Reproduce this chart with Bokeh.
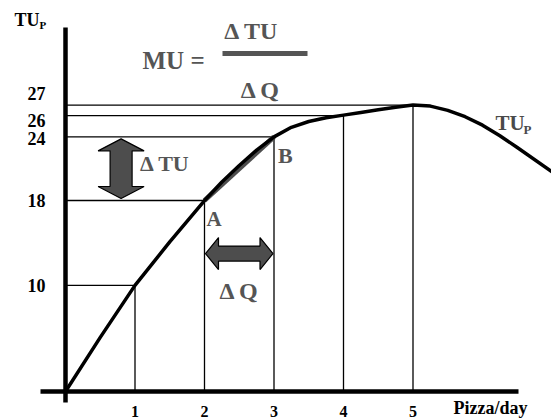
from bokeh.plotting import figure
from bokeh.models import Range1d, LinearAxis, FixedTicker
from bokeh.core.properties import value
from bokeh.embed import file_html
from bokeh.resources import INLINE

# ---------------- data ----------------
Q = [1, 2, 3, 4, 5]                      # pizzas per day
TU = [10, 18, 24, 26, 27]                # total utility at each Q
X_TICK_LABELS = ["1", "2", "3", "4", "5"]
Y_TICK_LABELS = ["10", "18", "24", "26", "27"]
# total-utility curve
Q_CURVE = [0, 0.5, 1, 1.5, 2, 2.25, 2.5, 2.75, 3, 3.25, 3.5, 3.75, 4, 4.25, 4.5, 4.75,
           5, 5.25, 5.5, 5.75, 6, 6.25, 6.5, 7.0, 7.3]
TU_CURVE = [0, 5.1, 10, 14.1, 18, 19.75, 21.3, 22.75, 24, 24.9, 25.45, 25.8, 26.05, 26.3, 26.55, 26.8,
            27, 26.9, 26.5, 25.9, 25.1, 24.1, 23.0, 20.7, 19.0]
IA, IB = 1, 2                            # points A (Q=2) and B (Q=3)

# ---------------- layout / style ----------------
W, H = 551, 420
XS, YS = 69.5, 10.61          # pixels per unit
X0, Y0 = 65, 391              # origin in figure pixels
FONT = value("Liberation Serif")
GRAY = "#555555"


def qx(px):
    return (px - X0) / XS


def ty(py):
    return (Y0 - py) / YS


p = figure(width=W, height=H, output_backend="svg", toolbar_location=None,
           x_range=Range1d(-X0 / XS, (W - X0) / XS),
           y_range=Range1d(-(H - Y0) / YS, Y0 / YS),
           x_axis_type=None, y_axis_type=None, min_border=0)
p.outline_line_color = None
p.background_fill_color = "white"
p.border_fill_color = "white"

# axes (library axes placed at the origin)
xaxis = LinearAxis(fixed_location=0, bounds=(qx(40), qx(518)),
                   ticker=FixedTicker(ticks=Q),
                   major_label_overrides={q: s for q, s in zip(Q, X_TICK_LABELS)})
yaxis = LinearAxis(fixed_location=0, bounds=(ty(402), ty(27)),
                   ticker=FixedTicker(ticks=[]))
for ax in (xaxis, yaxis):
    ax.axis_line_width = 4.5
    ax.axis_line_color = "black"
    ax.major_tick_line_color = None
    ax.minor_tick_line_color = None
    ax.major_label_text_font = "Liberation Serif"
    ax.major_label_text_font_style = "bold"
    ax.major_label_text_font_size = "16px"
    ax.major_label_text_color = "black"
xaxis.major_label_standoff = 8
p.add_layout(xaxis, "below")
p.add_layout(yaxis, "left")

# guide lines
p.segment(x0=Q, y0=[0] * len(Q), x1=Q, y1=TU, line_color="black", line_width=1.3)
p.segment(x0=[0] * len(Q), y0=TU, x1=Q, y1=TU, line_color="black", line_width=1.3)

# chord A-B
p.line(x=[Q[IA], Q[IB]], y=[TU[IA], TU[IB]], line_color="#4d4d4d", line_width=5)

# curve
p.line(x=Q_CURVE, y=TU_CURVE, line_color="black", line_width=3.5, line_join="round")


def double_arrow(x0, y0, x1, y1, shaft, head, head_len, inset=0.0):
    ax_, ay_ = x0 * XS, y0 * YS
    bx_, by_ = x1 * XS, y1 * YS
    dx, dy = bx_ - ax_, by_ - ay_
    L = (dx * dx + dy * dy) ** 0.5
    ux, uy = dx / L, dy / L
    nx, ny = -uy, ux
    ax_, ay_ = ax_ + ux * inset, ay_ + uy * inset
    bx_, by_ = bx_ - ux * inset, by_ - uy * inset

    def P(cx, cy, along, across):
        return (cx + ux * along + nx * across, cy + uy * along + ny * across)

    pts = [(ax_, ay_), P(ax_, ay_, head_len, head), P(ax_, ay_, head_len, shaft),
           P(bx_, by_, -head_len, shaft), P(bx_, by_, -head_len, head), (bx_, by_),
           P(bx_, by_, -head_len, -head), P(bx_, by_, -head_len, -shaft),
           P(ax_, ay_, head_len, -shaft), P(ax_, ay_, head_len, -head)]
    return [t[0] / XS for t in pts], [t[1] / YS for t in pts]


ARROW_X = 0.8
ARROW_Y = 13
vx, vy = double_arrow(ARROW_X, TU[IB], ARROW_X, TU[IA], shaft=11, head=23, head_len=12, inset=2)
p.patch(vx, vy, fill_color="#4d4d4d", line_color="black", line_width=1.2)
hx, hy = double_arrow(Q[IA], ARROW_Y, Q[IB], ARROW_Y, shaft=7.5, head=16, head_len=13, inset=1)
p.patch(hx, hy, fill_color="#4d4d4d", line_color="black", line_width=1.2)


def txt(x, y, s, size, color="black", align="left", xo=0, yo=0):
    p.text(x=[x], y=[y], text=[s], x_offset=xo, y_offset=yo,
           text_font=FONT, text_font_style="bold", text_font_size=value(f"{size}px"),
           text_color=color, text_align=align, text_baseline="middle")


# y tick labels
Y_LABEL_NUDGE = [0, 0, 2, 5, -12]
p.text(x=[0] * len(TU), y=TU, text=Y_TICK_LABELS, x_offset=-20, y_offset=Y_LABEL_NUDGE,
       text_font=FONT, text_font_style="bold", text_font_size=value("18px"),
       text_color="black", text_align="right", text_baseline="middle")

# axis titles
txt(qx(14), ty(19), "TU", 18)
txt(qx(39), ty(24.5), "P", 11)
txt(qx(453), ty(407), "Pizza/day", 18)

# formula
txt(qx(142), ty(60), "MU =", 25, GRAY)
txt(qx(251), ty(30), "Δ TU", 24, GRAY, align="center")
txt(qx(260), ty(89), "Δ Q", 24, GRAY, align="center")
p.segment(x0=[qx(222)], y0=[ty(53)], x1=[qx(307)], y1=[ty(53)], line_color=GRAY, line_width=5)

# annotations
txt(ARROW_X, (TU[IA] + TU[IB]) / 2, "Δ TU", 22, GRAY, xo=19, yo=-5)
txt(Q[IA], TU[IA], "A", 21, GRAY, xo=2, yo=18)
txt(Q[IB], TU[IB], "B", 22, GRAY, xo=4, yo=19)
txt((Q[IA] + Q[IB]) / 2, ARROW_Y, "Δ Q", 24, GRAY, align="center", yo=37)
txt(qx(495), ty(122.5), "TU", 21, "#4a4a4a")
txt(qx(523), ty(129), "P", 13, "#4a4a4a")

with open("out.html", "w", encoding="utf-8") as f:
    f.write(file_html(p, INLINE))
